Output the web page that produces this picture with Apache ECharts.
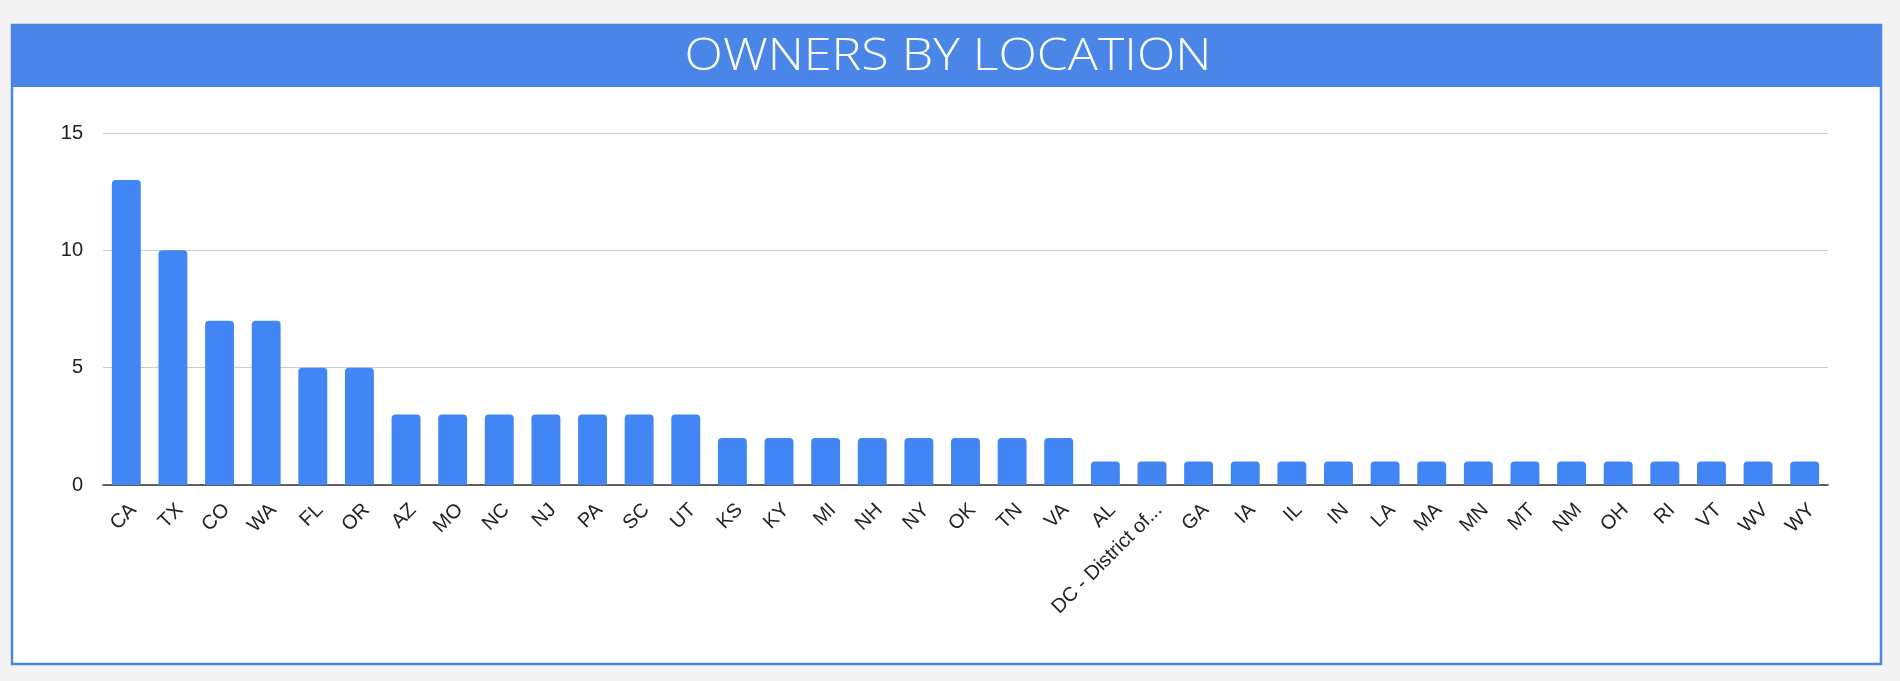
<!DOCTYPE html>
<html>
<head>
<meta charset="utf-8">
<script src="https://cdn.jsdelivr.net/npm/echarts@6/dist/echarts.min.js"></script>
<style>
html,body{margin:0;padding:0;background:#f3f3f3;}
#chart{width:1900px;height:681px;}
</style>
</head>
<body>
<div id="chart"></div>
<script>
const chartTitle = 'OWNERS BY LOCATION';
const categories = ["CA","TX","CO","WA","FL","OR","AZ","MO","NC","NJ","PA","SC","UT","KS","KY","MI","NH","NY","OK","TN","VA","AL","DC - District of...","GA","IA","IL","IN","LA","MA","MN","MT","NM","OH","RI","VT","WV","WY"];
const owners = [13,10,7,7,5,5,3,3,3,3,3,3,3,2,2,2,2,2,2,2,2,1,1,1,1,1,1,1,1,1,1,1,1,1,1,1,1];
const yTicks = [0,5,10,15];

const chart = echarts.init(document.getElementById('chart'));
chart.setOption({
  backgroundColor: '#f3f3f3',
  animation: false,
  graphic: [
    {type:'rect', z:-10, shape:{x:12, y:25, width:1869, height:639}, style:{fill:'#ffffff', stroke:'#4a86e8', lineWidth:2.5}},
    {type:'rect', z:-9, shape:{x:11, y:24, width:1871, height:63}, style:{fill:'#4a86e8'}},
    {type:'text', z:10, x:948, y:57, scaleX:1.14, scaleY:1,
      style:{text:chartTitle, fill:'#ffffff', font:'300 44px "Open Sans", Lato, sans-serif', align:'center', verticalAlign:'middle'}}
  ],
  grid: {left:103, right:72, top:133, bottom:196, containLabel:false},
  xAxis: {
    type: 'category',
    data: categories,
    axisLine: {lineStyle:{color:'#333333', width:1.5}},
    axisTick: {show:false},
    axisLabel: {interval:0, rotate:45, color:'#222222', fontSize:20, margin:29, padding:[0,-10,0,0], fontFamily:'"Liberation Sans", Arial, sans-serif'}
  },
  yAxis: {
    type: 'value',
    min: yTicks[0],
    max: yTicks[yTicks.length-1],
    interval: 5,
    axisLine: {show:false},
    axisTick: {show:false},
    splitLine: {lineStyle:{color:'#cccccc', width:1.2}},
    axisLabel: {color:'#222222', fontSize:20, margin:20, fontFamily:'"Liberation Sans", Arial, sans-serif'}
  },
  series: [{
    type: 'bar',
    data: owners,
    barWidth: '62%',
    itemStyle: {color:'#4285f4', borderRadius:[4,4,0,0]}
  }]
});
</script>
</body>
</html>
